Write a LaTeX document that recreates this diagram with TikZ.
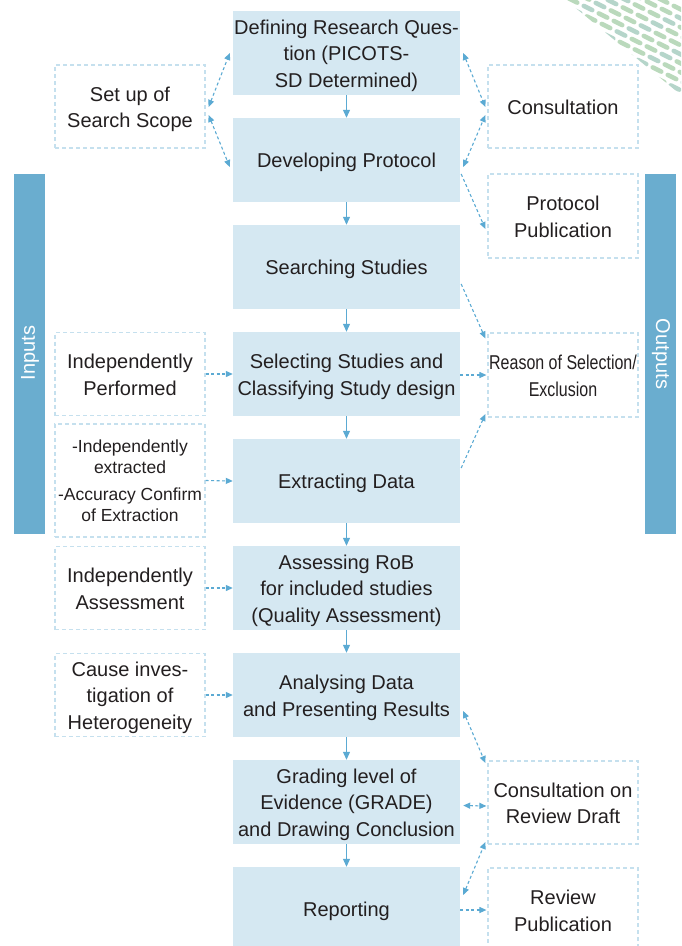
\documentclass[tikz,border=0pt]{standalone}
\usepackage{fontspec}
\setmainfont{Liberation Sans}
\usetikzlibrary{arrows.meta,calc}
\definecolor{boxfill}{HTML}{D5E8F2}
\definecolor{barblue}{HTML}{6AADCF}
\definecolor{dashblue}{HTML}{C5E0EE}
\definecolor{arrowblue}{HTML}{5BAAD3}
\definecolor{txt}{HTML}{231F20}
\definecolor{stripeA}{HTML}{8CC08F}
\definecolor{stripeB}{HTML}{84B9A6}
\newcommand\droptext[1]{\raisebox{-2.5pt}[\height][\depth]{\begin{tabular}{@{}c@{}}#1\end{tabular}}}
\begin{document}
\begin{tikzpicture}[x=1pt,y=-1pt,
  every node/.style={font=\fontsize{20}{26.5}\selectfont, text=txt, inner sep=0pt},
  cbox/.style={fill=boxfill, minimum width=227pt, minimum height=84pt},
  sbox/.style={draw=dashblue, line width=1.2pt, dash pattern=on 4pt off 3pt, minimum width=150pt, minimum height=83pt},
  flow/.style={draw=arrowblue, line width=1.1pt, -{Triangle[length=8pt,width=7pt]}},
  link/.style={draw=arrowblue, line width=1.1pt, dash pattern=on 3pt off 2.5pt, -{Triangle[length=7pt,width=6pt]}},
  blink/.style={link, {Triangle[length=7pt,width=6pt]}-{Triangle[length=7pt,width=6pt]}},
  sidebar/.style={fill=barblue, minimum width=31pt, minimum height=360pt},
  bartext/.style={text=white},
  stripe/.style={line width=4.6pt, line cap=round, opacity=0.6}
]
\useasboundingbox (0,0) rectangle (681,946);
\clip (0,0) rectangle (681,946);

% decorative stripes
\begin{scope}
\clip (566,0) -- (681,0) -- (681,95) -- cycle;
\foreach \i in {-8,...,10}{\foreach \j in {-4,...,12}{
  \pgfmathsetmacro\cx{570+15*\i+3*\j}
  \pgfmathsetmacro\cy{-10+7.5*\i+10.5*\j}
  \pgfmathtruncatemacro\stripeidx{mod(\i+\j+40,3)}
  \ifnum\stripeidx=0 \def\sc{stripeB}\else\def\sc{stripeA}\fi
  \draw[stripe, draw=\sc] (\cx-4.2,\cy-2.1) -- (\cx+4.2,\cy+2.1);
}}
\end{scope}

% side bars
\node[sidebar] (inbar) at (29.5,353.5) {};
\node[sidebar] (outbar) at (660.5,353.5) {};
\node[bartext, rotate=90] (intext) at (30,353) {Inputs};
\node[bartext, rotate=-90] (outtext) at (661,354) {Outputs};

% main flow
\node[cbox] (b1) at (346.5,53) {\droptext{Defining Research Ques-\\tion (PICOTS-\\SD Determined)}};
\node[cbox] (b2) at (346.5,160) {\droptext{Developing Protocol}};
\node[cbox] (b3) at (346.5,267) {\droptext{Searching Studies}};
\node[cbox] (b4) at (346.5,374) {\droptext{Selecting Studies and\\Classifying Study design}};
\node[cbox] (b5) at (346.5,481) {\droptext{Extracting Data}};
\node[cbox] (b6) at (346.5,588) {\droptext{Assessing RoB\\for included studies\\(Quality Assessment)}};
\node[cbox] (b7) at (346.5,695) {\droptext{Analysing Data\\and Presenting Results}};
\node[cbox] (b8) at (346.5,802) {\droptext{Grading level of\\Evidence (GRADE)\\and Drawing Conclusion}};
\node[cbox] (b9) at (346.5,909) {\droptext{Reporting}};

% inputs
\node[sbox] (L1) at (130,106.5) {\droptext{Set up of\\Search Scope}};
\node[sbox] (L2) at (130,374) {\droptext{Independently\\Performed}};
\node[sbox, minimum height=113pt, font=\fontsize{17.5}{21}\selectfont] (L3) at (130,480.5) {\droptext{-Independently\\extracted\\[6pt]-Accuracy Confirm\\of Extraction}};
\node[sbox] (L4) at (130,588) {\droptext{Independently\\Assessment}};
\node[sbox] (L5) at (130,695) {\droptext{Cause inves-\\tigation of\\Heterogeneity}};

% outputs
\node[sbox] (R1) at (563,106.5) {\droptext{Consultation}};
\node[sbox, minimum height=84pt] (R2) at (563,216) {\droptext{Protocol\\Publication}};
\node[sbox, minimum height=84pt] (R3) at (563,375) {\droptext{\scalebox{0.8}[1]{Reason of Selection/}\\\scalebox{0.8}[1]{Exclusion}}};
\node[sbox] (R4) at (563,802.5) {\droptext{Consultation on\\Review Draft}};
\node[sbox, minimum height=84pt] (R5) at (563,910) {\droptext{Review\\Publication}};

% solid flow arrows
\draw[flow] (b1.south) -- (b2.north);
\draw[flow] (b2.south) -- (b3.north);
\draw[flow] (b3.south) -- (b4.north);
\draw[flow] (b4.south) -- (b5.north);
\draw[flow] (b5.south) -- (b6.north);
\draw[flow] (b6.south) -- (b7.north);
\draw[flow] (b7.south) -- (b8.north);
\draw[flow] (b8.south) -- (b9.north);

% left links
\draw[blink] ($(L1.east)+(3,0.5)$) -- ($(b1.west)+(-3,0)$);
\draw[blink] ($(L1.east)+(3,8.5)$) -- ($(b2.west)+(-3,7)$);
\draw[link] (L2.east) -- (b4.west);
\draw[link] (L3.east) -- (b5.west);
\draw[link] (L4.east) -- (b6.west);
\draw[link] (L5.east) -- (b7.west);

% right links
\draw[blink] ($(b1.east)+(3,0)$) -- ($(R1.west)+(-2,0.5)$);
\draw[blink] ($(b2.east)+(3,7)$) -- ($(R1.west)+(-2,8.5)$);
\draw[link] ($(b2.east)+(1,14)$) -- ($(R2.west)+(-2,13)$);
\draw[link] ($(b3.east)+(1,17)$) -- ($(R3.west)+(-2,-36.5)$);
\draw[link] ($(b4.east)+(0,1)$) -- ($(R3.west)+(-1,0)$);
\draw[link] ($(b5.east)+(1,-13)$) -- ($(R3.west)+(-2,39)$);
\draw[blink] ($(b7.east)+(3,16)$) -- ($(R4.west)+(-2,-39.5)$);
\draw[blink] ($(b8.east)+(3,3.5)$) -- ($(R4.west)+(-1,3.5)$);
\draw[blink] ($(b9.east)+(3,-14)$) -- ($(R4.west)+(-2,39.5)$);
\draw[link] ($(b9.east)+(0,1)$) -- ($(R5.west)+(-1,0)$);
\end{tikzpicture}
\end{document}
